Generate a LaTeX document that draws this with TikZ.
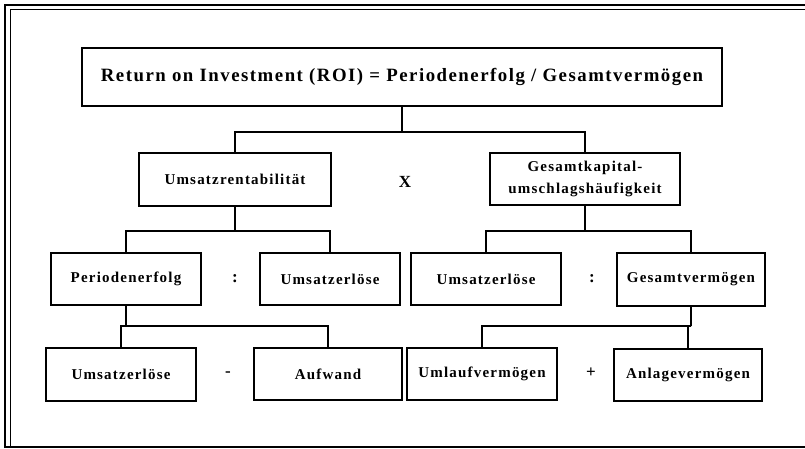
\documentclass[tikz,border=0pt]{standalone}
\usepackage{fontspec}
\setmainfont{Liberation Serif}[LetterSpace=8]
\usetikzlibrary{positioning}

\tikzset{
  kbox/.style={draw, line width=1.8pt, align=center, inner sep=2pt,
    font=\bfseries\fontsize{15}{22}\selectfont},
  opsym/.style={font=\bfseries\fontsize{17}{22}\selectfont},
  link/.style={line width=1.8pt}
}

\begin{document}
\begin{tikzpicture}[x=1pt,y=-1pt]
        \useasboundingbox (0,0) rectangle (805,448);

        % Rahmen
        \draw[line width=2pt] (805,5) -- (5,5) -- (5,447) -- (805,447);
        \draw[line width=1pt] (805,9) -- (10,9) -- (10,447);

        % Spitze
        \node[kbox, minimum width=640pt, minimum height=58pt,
          font=\bfseries\fontsize{18.8}{22}\selectfont] (roi) at (402,77)
          {Return on Investment (ROI) = Periodenerfolg / Gesamtvermögen};

        % Ebene 2
        \node[kbox, minimum width=192pt, minimum height=53pt] (ur) at (235,179.5) {Umsatzrentabilität};
        \node[kbox, minimum width=190pt, minimum height=52pt] (gk) at (585,179) {Gesamtkapital-\\umschlagshäufigkeit};
        \node[opsym] (mal) at (405,182) {X};

        % Ebene 3
        \node[kbox, minimum width=150pt, minimum height=52pt] (pe) at (126,279) {Periodenerfolg};
        \node[kbox, minimum width=140pt, minimum height=52pt] (ue1) at (330,279) {Umsatzerlöse};
        \node[opsym] (div1) at (235,279) {:};
        \node[kbox, minimum width=150pt, minimum height=52pt] (ue2) at (486,279) {Umsatzerlöse};
        \node[kbox, minimum width=148pt, minimum height=53pt] (gv) at (691,279.5) {Gesamtvermögen};
        \node[opsym] (div2) at (592,279) {:};

        % Ebene 4
        \node[kbox, minimum width=150pt, minimum height=53pt] (ue3) at (121,374.5) {Umsatzerlöse};
        \node[kbox, minimum width=148pt, minimum height=52pt] (af) at (328,374) {Aufwand};
        \node[opsym] (minus) at (228,374) {-};
        \node[kbox, minimum width=150pt, minimum height=52pt] (ulv) at (482,374) {Umlaufvermögen};
        \node[kbox, minimum width=148pt, minimum height=52pt] (alv) at (688,375) {Anlagevermögen};
        \node[opsym] (plus) at (591,373) {+};

        % Verbindungen
        \draw[link] (roi.south) -- ++(0,25) coordinate (j1);
        \draw[link] (ur.north) |- (j1) -| (gk.north);
        \draw[link] (ur.south) -- ++(0,24) coordinate (j2);
        \draw[link] (pe.north) |- (j2) -| (ue1.north);
        \draw[link] (gk.south) -- ++(0,25) coordinate (j3);
        \draw[link] (ue2.north) |- (j3) -| (gv.north);
        \draw[link] (pe.south) -- ++(0,20) coordinate (j4);
        \draw[link] (ue3.north) |- (j4) -| (af.north);
        \draw[link] (gv.south) -- ++(0,19) coordinate (j5);
        \draw[link] (ulv.north) |- (j5) -| (alv.north);
\end{tikzpicture}
\end{document}
